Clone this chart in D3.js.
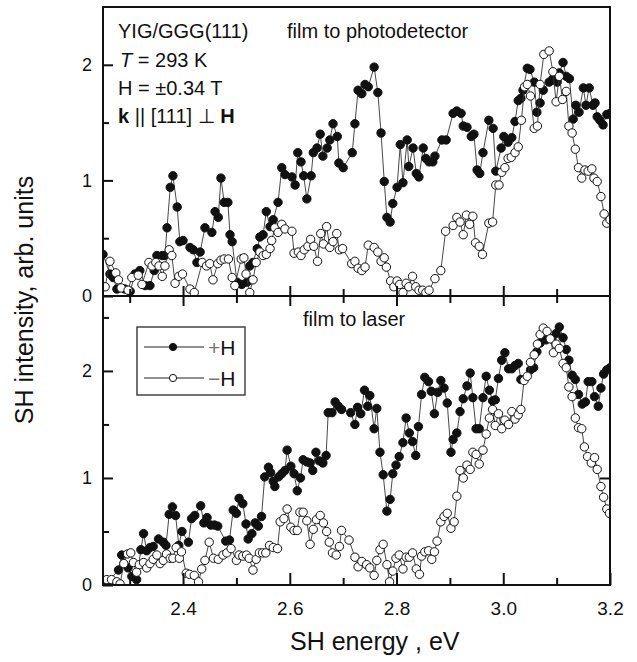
<!DOCTYPE html>
<html>
<head>
<meta charset="utf-8">
<script src="https://cdn.jsdelivr.net/npm/d3@7"></script>
<style>
  body { margin: 0; background: #fff; }
  svg text { font-family: "Liberation Sans", Arial, Helvetica, sans-serif; fill: #111; }
</style>
</head>
<body>
<svg id="chart" width="637" height="662"></svg>
<script>
// film to photodetector, +H
const topPlus = [[2.250,0.36],[2.263,0.19],[2.269,0.16],[2.276,0.06],[2.291,0.06],[2.301,0.04],[2.310,0.19],[2.319,0.22],[2.329,0.09],[2.338,0.09],[2.346,0.22],[2.351,0.35],[2.361,0.35],[2.366,0.35],[2.370,0.59],[2.376,0.94],[2.381,1.04],[2.389,0.77],[2.394,0.47],[2.400,0.48],[2.413,0.42],[2.419,0.40],[2.426,0.29],[2.432,0.38],[2.441,0.59],[2.454,0.55],[2.460,0.73],[2.466,0.68],[2.471,1.02],[2.477,0.81],[2.484,0.81],[2.488,0.53],[2.492,0.47],[2.501,0.12],[2.510,0.10],[2.520,0.12],[2.525,0.26],[2.531,0.29],[2.539,0.41],[2.544,0.51],[2.550,0.53],[2.556,0.73],[2.563,0.60],[2.569,0.66],[2.578,0.81],[2.585,1.11],[2.591,1.05],[2.604,1.03],[2.610,0.96],[2.615,1.24],[2.621,1.16],[2.626,1.04],[2.632,0.84],[2.640,1.04],[2.644,1.24],[2.651,1.28],[2.657,1.40],[2.662,1.21],[2.670,1.28],[2.675,1.35],[2.681,1.49],[2.689,1.38],[2.692,1.15],[2.700,1.11],[2.717,1.24],[2.722,1.49],[2.728,1.78],[2.735,1.75],[2.741,1.83],[2.747,1.81],[2.758,1.98],[2.765,1.76],[2.771,1.41],[2.777,0.99],[2.782,0.68],[2.788,0.64],[2.793,0.80],[2.801,0.94],[2.807,1.31],[2.812,0.98],[2.820,1.35],[2.823,1.12],[2.831,1.28],[2.837,1.06],[2.842,1.03],[2.850,1.28],[2.855,1.19],[2.861,1.16],[2.868,1.16],[2.872,1.21],[2.885,1.35],[2.893,1.35],[2.906,1.58],[2.913,1.60],[2.921,1.58],[2.925,1.47],[2.932,1.46],[2.940,1.38],[2.945,1.40],[2.951,1.09],[2.956,1.06],[2.962,1.24],[2.973,1.52],[2.981,1.45],[2.986,1.08],[2.996,1.28],[3.001,1.38],[3.009,1.33],[3.016,1.37],[3.022,1.51],[3.028,1.69],[3.033,1.71],[3.037,1.78],[3.045,1.97],[3.050,1.96],[3.058,1.85],[3.063,1.59],[3.069,1.67],[3.075,1.78],[3.086,1.85],[3.093,1.88],[3.101,1.85],[3.105,1.93],[3.112,2.02],[3.118,1.90],[3.124,1.88],[3.131,1.53],[3.136,1.65],[3.142,1.59],[3.150,1.80],[3.155,1.65],[3.161,1.80],[3.168,1.65],[3.172,1.67],[3.176,1.55],[3.181,1.52],[3.187,1.48],[3.194,1.57],[3.200,1.58]];

// film to photodetector, -H
const topMinus = [[2.254,0.08],[2.263,0.30],[2.274,0.20],[2.279,0.14],[2.284,0.07],[2.297,0.05],[2.304,0.16],[2.316,0.18],[2.323,0.10],[2.336,0.29],[2.342,0.26],[2.349,0.29],[2.355,0.26],[2.361,0.17],[2.366,0.26],[2.374,0.40],[2.379,0.35],[2.385,0.11],[2.392,0.17],[2.399,0.19],[2.413,0.06],[2.421,0.03],[2.436,0.29],[2.444,0.26],[2.450,0.28],[2.456,0.14],[2.465,0.28],[2.471,0.31],[2.477,0.32],[2.485,0.32],[2.492,0.16],[2.497,0.09],[2.509,0.32],[2.514,0.33],[2.518,0.19],[2.525,0.03],[2.531,0.14],[2.537,0.29],[2.544,0.38],[2.550,0.35],[2.556,0.36],[2.563,0.41],[2.566,0.48],[2.572,0.59],[2.578,0.55],[2.585,0.62],[2.591,0.58],[2.604,0.56],[2.608,0.37],[2.616,0.38],[2.621,0.35],[2.627,0.40],[2.634,0.43],[2.639,0.49],[2.645,0.43],[2.652,0.30],[2.658,0.54],[2.663,0.45],[2.669,0.60],[2.675,0.42],[2.681,0.47],[2.688,0.54],[2.693,0.40],[2.699,0.41],[2.716,0.28],[2.722,0.30],[2.728,0.24],[2.735,0.22],[2.741,0.25],[2.747,0.44],[2.758,0.42],[2.765,0.38],[2.771,0.30],[2.777,0.33],[2.781,0.25],[2.789,0.13],[2.795,0.08],[2.801,0.13],[2.806,0.10],[2.812,0.03],[2.818,0.11],[2.823,0.08],[2.830,0.17],[2.836,0.08],[2.842,0.05],[2.849,0.05],[2.855,0.03],[2.861,0.05],[2.872,0.15],[2.883,0.22],[2.892,0.56],[2.906,0.61],[2.913,0.68],[2.919,0.64],[2.925,0.53],[2.931,0.70],[2.937,0.62],[2.943,0.69],[2.948,0.46],[2.955,0.43],[2.961,0.36],[2.973,0.63],[2.980,0.64],[2.986,0.96],[2.992,0.96],[2.997,1.07],[3.003,1.11],[3.009,1.19],[3.015,1.20],[3.022,1.24],[3.028,1.29],[3.034,1.52],[3.040,1.81],[3.045,1.83],[3.051,1.73],[3.058,1.45],[3.064,1.47],[3.069,1.83],[3.076,2.09],[3.086,2.12],[3.093,1.94],[3.099,1.68],[3.105,1.90],[3.111,1.70],[3.118,1.77],[3.123,1.47],[3.129,1.41],[3.135,1.27],[3.141,1.11],[3.147,1.02],[3.153,1.09],[3.159,1.08],[3.166,1.10],[3.170,1.02],[3.176,0.99],[3.183,0.86],[3.189,0.71],[3.194,0.63],[3.200,0.66]];

// film to laser, +H
const botPlus = [[2.254,0.03],[2.260,0.03],[2.279,0.14],[2.285,0.28],[2.297,0.16],[2.304,0.08],[2.313,0.05],[2.321,0.33],[2.326,0.48],[2.332,0.32],[2.338,0.35],[2.344,0.36],[2.354,0.43],[2.363,0.40],[2.368,0.37],[2.374,0.66],[2.380,0.73],[2.386,0.65],[2.392,0.37],[2.398,0.50],[2.410,0.40],[2.416,0.62],[2.422,0.65],[2.433,0.74],[2.439,0.58],[2.445,0.63],[2.452,0.56],[2.459,0.56],[2.465,0.55],[2.480,0.41],[2.487,0.42],[2.494,0.70],[2.500,0.67],[2.505,0.81],[2.512,0.76],[2.518,0.57],[2.522,0.43],[2.529,0.48],[2.535,0.58],[2.541,0.55],[2.547,0.64],[2.553,1.01],[2.560,1.10],[2.564,1.05],[2.569,0.97],[2.572,0.92],[2.579,1.01],[2.585,1.04],[2.591,1.07],[2.595,1.26],[2.602,1.11],[2.608,1.04],[2.614,0.88],[2.620,1.00],[2.625,1.17],[2.632,1.15],[2.638,1.14],[2.643,1.07],[2.649,1.24],[2.655,1.16],[2.662,1.14],[2.668,1.21],[2.672,1.61],[2.679,1.61],[2.685,1.71],[2.691,1.67],[2.697,1.64],[2.714,1.61],[2.722,1.50],[2.727,1.66],[2.733,1.60],[2.740,1.82],[2.746,1.67],[2.750,1.77],[2.758,1.46],[2.763,1.65],[2.769,1.24],[2.775,1.03],[2.782,0.69],[2.788,0.80],[2.793,1.04],[2.799,1.12],[2.805,1.20],[2.812,1.33],[2.818,1.56],[2.824,1.42],[2.830,1.34],[2.836,1.21],[2.841,1.48],[2.847,1.78],[2.853,1.94],[2.860,1.90],[2.865,1.81],[2.871,1.60],[2.877,1.80],[2.883,1.91],[2.889,1.84],[2.895,1.70],[2.902,1.24],[2.906,1.36],[2.913,1.42],[2.919,1.62],[2.925,1.74],[2.932,1.86],[2.938,1.98],[2.943,1.75],[2.949,1.46],[2.955,1.46],[2.962,1.75],[2.968,1.95],[2.974,1.82],[2.980,1.72],[2.985,1.73],[2.991,1.93],[2.997,2.10],[3.003,2.17],[3.010,2.02],[3.016,2.02],[3.022,2.05],[3.028,2.07],[3.033,1.92],[3.051,2.01],[3.057,2.03],[3.063,2.18],[3.069,2.26],[3.080,2.29],[3.091,2.30],[3.099,2.35],[3.105,2.41],[3.112,2.31],[3.118,2.20],[3.123,2.10],[3.129,1.96],[3.135,1.92],[3.141,1.78],[3.148,1.69],[3.154,1.71],[3.159,1.90],[3.166,1.90],[3.171,1.76],[3.178,1.67],[3.183,1.84],[3.188,1.97],[3.194,2.01],[3.200,2.03]];

// film to laser, -H
const botMinus = [[2.257,0.05],[2.266,0.05],[2.276,0.03],[2.282,0.01],[2.289,0.20],[2.296,0.29],[2.302,0.30],[2.307,0.21],[2.313,0.12],[2.318,0.19],[2.326,0.21],[2.332,0.16],[2.338,0.20],[2.344,0.24],[2.351,0.28],[2.357,0.20],[2.363,0.23],[2.369,0.29],[2.376,0.25],[2.381,0.25],[2.387,0.35],[2.393,0.25],[2.397,0.31],[2.406,0.11],[2.412,0.10],[2.421,0.09],[2.429,0.03],[2.435,0.15],[2.441,0.23],[2.449,0.40],[2.457,0.25],[2.466,0.24],[2.475,0.28],[2.482,0.30],[2.490,0.34],[2.500,0.23],[2.505,0.28],[2.512,0.27],[2.519,0.28],[2.524,0.25],[2.531,0.14],[2.537,0.24],[2.543,0.30],[2.549,0.30],[2.555,0.30],[2.562,0.37],[2.569,0.35],[2.577,0.34],[2.582,0.59],[2.589,0.62],[2.595,0.71],[2.602,0.54],[2.608,0.51],[2.614,0.51],[2.619,0.68],[2.625,0.68],[2.632,0.60],[2.638,0.38],[2.644,0.52],[2.650,0.61],[2.657,0.65],[2.663,0.58],[2.669,0.50],[2.674,0.40],[2.680,0.30],[2.687,0.28],[2.693,0.36],[2.697,0.51],[2.711,0.42],[2.722,0.26],[2.728,0.17],[2.735,0.22],[2.744,0.19],[2.750,0.16],[2.758,0.09],[2.763,0.23],[2.769,0.33],[2.775,0.38],[2.782,0.19],[2.787,0.03],[2.793,0.13],[2.799,0.25],[2.805,0.28],[2.812,0.15],[2.818,0.26],[2.824,0.26],[2.830,0.30],[2.837,0.15],[2.843,0.10],[2.847,0.27],[2.853,0.31],[2.860,0.32],[2.866,0.24],[2.871,0.31],[2.876,0.41],[2.883,0.59],[2.889,0.64],[2.895,0.67],[2.902,0.53],[2.908,0.59],[2.913,0.83],[2.919,1.07],[2.925,1.00],[2.932,1.12],[2.938,1.08],[2.943,1.24],[2.949,1.22],[2.955,1.13],[2.962,1.26],[2.968,1.41],[2.974,1.56],[2.980,1.64],[2.985,1.49],[2.991,1.60],[2.997,1.46],[3.003,1.54],[3.010,1.50],[3.016,1.62],[3.022,1.55],[3.028,1.59],[3.033,1.64],[3.039,1.91],[3.045,1.95],[3.051,2.08],[3.058,2.15],[3.064,2.25],[3.069,2.34],[3.075,2.40],[3.082,2.37],[3.088,2.30],[3.094,2.17],[3.099,2.25],[3.105,2.21],[3.112,2.07],[3.118,2.03],[3.123,1.85],[3.129,1.76],[3.135,1.56],[3.141,1.47],[3.147,1.46],[3.152,1.29],[3.158,1.20],[3.165,1.14],[3.171,1.19],[3.176,1.08],[3.183,0.92],[3.188,0.82],[3.194,0.71],[3.199,0.67]];

const xDomain = [2.25, 3.2];
const xMajor = [2.4, 2.6, 2.8, 3.0, 3.2];
const xMinor = [2.3, 2.5, 2.7, 2.9, 3.1];
const topDomain = [0, 2.5];
const botDomain = [0, 2.7];
const yMajor = [0, 1, 2];
const topYMinor = [0.5, 1.5];
const botYMinor = [0.5, 1.5, 2.5];

const topNotes = ["YIG/GGG(111)", "film to photodetector"];
const botNote = "film to laser";
const legendLabels = ["+H", "\u2212H"];

const svg = d3.select("#chart");
const pLeft = 103, pRight = 610, pTop = 7, pMid = 296, pBottom = 585;

const x = d3.scaleLinear().domain(xDomain).range([pLeft, pRight]);
const yTop = d3.scaleLinear().domain(topDomain).range([pMid, pTop]);
const yBot = d3.scaleLinear().domain(botDomain).range([pBottom, pMid]);

const defs = svg.append("defs");
defs.append("clipPath").attr("id", "clipTop")
  .append("rect").attr("x", pLeft).attr("y", pTop).attr("width", pRight - pLeft).attr("height", pMid - pTop);
defs.append("clipPath").attr("id", "clipBot")
  .append("rect").attr("x", pLeft).attr("y", pMid).attr("width", pRight - pLeft).attr("height", pBottom - pMid);

function drawSeries(g, data, y, filled) {
  const line = d3.line().x(d => x(d[0])).y(d => y(d[1]));
  g.append("path")
    .attr("d", line(data))
    .attr("fill", "none")
    .attr("stroke", "#333")
    .attr("stroke-width", 0.9);
  g.selectAll(null)
    .data(data)
    .enter()
    .append("circle")
    .attr("cx", d => x(d[0]))
    .attr("cy", d => y(d[1]))
    .attr("r", 4.2)
    .attr("fill", filled ? "#111" : "#fff")
    .attr("stroke", "#111")
    .attr("stroke-width", 1);
}

const gTop = svg.append("g").attr("clip-path", "url(#clipTop)");
drawSeries(gTop, topPlus, yTop, true);
drawSeries(gTop, topMinus, yTop, false);

const gBot = svg.append("g").attr("clip-path", "url(#clipBot)");
drawSeries(gBot, botPlus, yBot, true);
drawSeries(gBot, botMinus, yBot, false);

// ticks (all pointing inside)
function styleAxis(g, size) {
  g.select(".domain").remove();
  g.selectAll(".tick line").attr("stroke", "#111").attr("stroke-width", 2);
  g.selectAll(".tick text").attr("font-size", size).attr("fill", "#111")
    .style("font-family", '"Liberation Sans", Arial, sans-serif');
}

function addAxis(axis, tx, ty, size) {
  const g = svg.append("g").attr("transform", "translate(" + tx + "," + ty + ")").call(axis);
  styleAxis(g, size);
  return g;
}

// left axes
addAxis(d3.axisLeft(yTop).tickValues(yMajor).tickSize(-10).tickPadding(11).tickFormat(d3.format("d")), pLeft, 0, 18);
addAxis(d3.axisLeft(yTop).tickValues(topYMinor).tickSize(-6).tickFormat(""), pLeft, 0, 18);
addAxis(d3.axisLeft(yBot).tickValues(yMajor).tickSize(-10).tickPadding(11).tickFormat(d3.format("d")), pLeft, 0, 18);
addAxis(d3.axisLeft(yBot).tickValues(botYMinor).tickSize(-6).tickFormat(""), pLeft, 0, 18);

// right axis ticks, lower panel
addAxis(d3.axisRight(yBot).tickValues([1, 2]).tickSize(-10).tickFormat(""), pRight, 0, 18);

// divider ticks
addAxis(d3.axisBottom(x).tickValues(xMajor.slice(0, 4)).tickSize(-10).tickFormat(""), 0, pMid, 18);
addAxis(d3.axisBottom(x).tickValues(xMinor).tickSize(-7).tickFormat(""), 0, pMid, 18);
addAxis(d3.axisTop(x).tickValues(xMajor.slice(0, 4)).tickSize(-10).tickFormat(""), 0, pMid, 18);
addAxis(d3.axisTop(x).tickValues(xMinor).tickSize(-7).tickFormat(""), 0, pMid, 18);

// bottom axis
addAxis(d3.axisBottom(x).tickValues(xMajor).tickSize(-12).tickPadding(17).tickFormat(d3.format(".1f")), 0, pBottom, 19);
addAxis(d3.axisBottom(x).tickValues(xMinor).tickSize(-7).tickFormat(""), 0, pBottom, 19);

// frames
svg.append("rect")
  .attr("x", pLeft).attr("y", pTop)
  .attr("width", pRight - pLeft).attr("height", pBottom - pTop)
  .attr("fill", "none").attr("stroke", "#111").attr("stroke-width", 2);
svg.append("line")
  .attr("x1", pLeft).attr("x2", pRight).attr("y1", pMid).attr("y2", pMid)
  .attr("stroke", "#111").attr("stroke-width", 2);

// axis titles
svg.append("text")
  .attr("x", 290).attr("y", 650)
  .attr("font-size", 25)
  .text("SH energy , eV");
svg.append("text")
  .attr("transform", "translate(33,300) rotate(-90)")
  .attr("text-anchor", "middle")
  .attr("font-size", 25)
  .text("SH intensity, arb. units");

// annotations upper panel
svg.append("text").attr("x", 118).attr("y", 38).attr("font-size", 20).text(topNotes[0]);
svg.append("text").attr("x", 287).attr("y", 38).attr("font-size", 20).text(topNotes[1]);

const t1 = svg.append("text").attr("x", 120).attr("y", 67).attr("font-size", 20);
t1.append("tspan").attr("font-style", "italic").text("T");
t1.append("tspan").text(" = 293 K");

svg.append("text").attr("x", 118).attr("y", 95).attr("font-size", 20).text("H = \u00b10.34 T");

const t3 = svg.append("text").attr("x", 118).attr("y", 123).attr("font-size", 20);
t3.append("tspan").attr("font-weight", "bold").text("k");
t3.append("tspan").text(" || [111] \u22a5 ");
t3.append("tspan").attr("font-weight", "bold").text("H");

svg.append("text").attr("x", 303).attr("y", 326).attr("font-size", 20).text(botNote);

// legend
const lg = svg.append("g");
lg.append("rect")
  .attr("x", 137).attr("y", 327).attr("width", 108).attr("height", 68)
  .attr("fill", "#fff").attr("stroke", "#444").attr("stroke-width", 1.5);
const legendY = [347, 378];
legendLabels.forEach((lab, i) => {
  const yy = legendY[i];
  lg.append("line")
    .attr("x1", 144).attr("x2", 204).attr("y1", yy).attr("y2", yy)
    .attr("stroke", "#222").attr("stroke-width", 1);
  lg.append("circle")
    .attr("cx", 173).attr("cy", yy).attr("r", 3.6)
    .attr("fill", i == 0 ? "#111" : "#fff")
    .attr("stroke", "#111").attr("stroke-width", 1);
  const tx = lg.append("text").attr("x", 208).attr("y", yy + 8).attr("font-size", 21);
  tx.append("tspan").attr("fill", "#777").text(lab.charAt(0));
  tx.append("tspan").text(lab.slice(1));
});
</script>
</body>
</html>
